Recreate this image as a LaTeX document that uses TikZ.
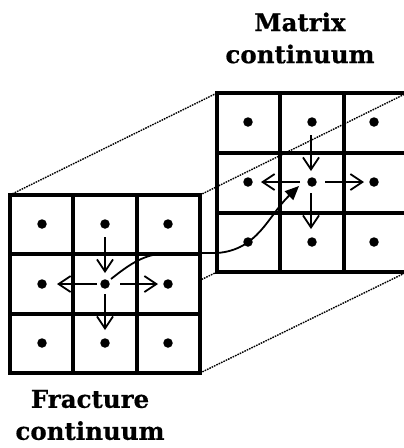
\documentclass[tikz,border=0pt]{standalone}
\usepackage{fontspec}
\setmainfont{DejaVu Serif}[BoldFeatures={FakeBold=0.6}]
\usetikzlibrary{arrows.meta}
\begin{document}
\begin{tikzpicture}[x=1pt,y=-1pt,
  gridline/.style={line width=3.4pt},
  proj/.style={line width=1.4pt, dash pattern=on 1.6pt off 1pt},
  flow/.style={line width=1.8pt, -{Straight Barb[length=12pt,width=16pt,line width=1.8pt]}},
  link/.style={line width=1.8pt, -{Triangle[length=14pt,width=12pt]}},
  dotnode/.style={circle, fill=black, inner sep=0pt, minimum size=9.5pt},
  label/.style={font=\fontsize{24.5}{32}\selectfont\bfseries, align=center}]
\useasboundingbox (0,0) rectangle (404,448);
% corners
\coordinate (ftl) at (10,195);
\coordinate (ftr) at (200,195);
\coordinate (fbl) at (10,373);
\coordinate (fbr) at (200,373);
\coordinate (btl) at (217,93);
\coordinate (btr) at (407,93);
\coordinate (bbl) at (217,272);
\coordinate (bbr) at (407,272);
% back grid (matrix)
\draw[gridline] (btl) rectangle (bbr);
\draw[gridline] (280,93) -- (280,272) (344,93) -- (344,272)
                (217,153) -- (407,153) (217,213) -- (407,213);
% projection lines
\draw[proj] (ftl) -- (btl);
\draw[proj] (ftr) -- (btr);
\draw[proj] (fbr) -- (bbr);
\draw[proj] (fbl) -- (bbl);
% front grid (fracture)
\fill[white] (ftl) rectangle (fbr);
\draw[gridline] (ftl) rectangle (fbr);
\draw[gridline] (73,195) -- (73,373) (137,195) -- (137,373)
                (10,254) -- (200,254) (10,314) -- (200,314);
% dots
\foreach \i/\x in {1/42,2/105,3/168}
  \foreach \j/\y in {1/224,2/284,3/343}
    \node[dotnode] (f\i\j) at (\x,\y) {};
\foreach \i/\x in {1/248,2/312,3/374}
  \foreach \j/\y in {1/122,2/182,3/242}
    \node[dotnode] (b\i\j) at (\x,\y) {};
% front flow arrows
\coordinate (fdA) at (105,237); \coordinate (fdB) at (105,273);
\coordinate (fdC) at (105,294); \coordinate (fdD) at (105,330);
\coordinate (flA) at (97,284);  \coordinate (flB) at (57,284);
\coordinate (frA) at (120,284); \coordinate (frB) at (158,284);
\draw[flow] (fdA) -- (fdB);
\draw[flow] (fdC) -- (fdD);
\draw[flow] (flA) -- (flB);
\draw[flow] (frA) -- (frB);
% back flow arrows
\coordinate (bdA) at (311,135); \coordinate (bdB) at (311,171);
\coordinate (bdC) at (311,193); \coordinate (bdD) at (311,229);
\coordinate (blA) at (300,182); \coordinate (blB) at (261,182);
\coordinate (brA) at (325,182); \coordinate (brB) at (364,182);
\draw[flow] (bdA) -- (bdB);
\draw[flow] (bdC) -- (bdD);
\draw[flow] (blA) -- (blB);
\draw[flow] (brA) -- (brB);
% transfer connector
\coordinate (lkS) at (111,279);
\coordinate (lkM) at (217,253);
\coordinate (lkE) at (299,186);
\draw[line width=1.8pt] (lkS) .. controls (130,264) and (145,253) .. (170,253) -- (lkM);
\draw[link] (lkM) .. controls (258,250) and (268,216) .. (lkE);
% labels
\node[label] (mtx) at (300,38) {Matrix\\continuum};
\node[label] (frc) at (90,415) {Fracture\\continuum};
\end{tikzpicture}
\end{document}
